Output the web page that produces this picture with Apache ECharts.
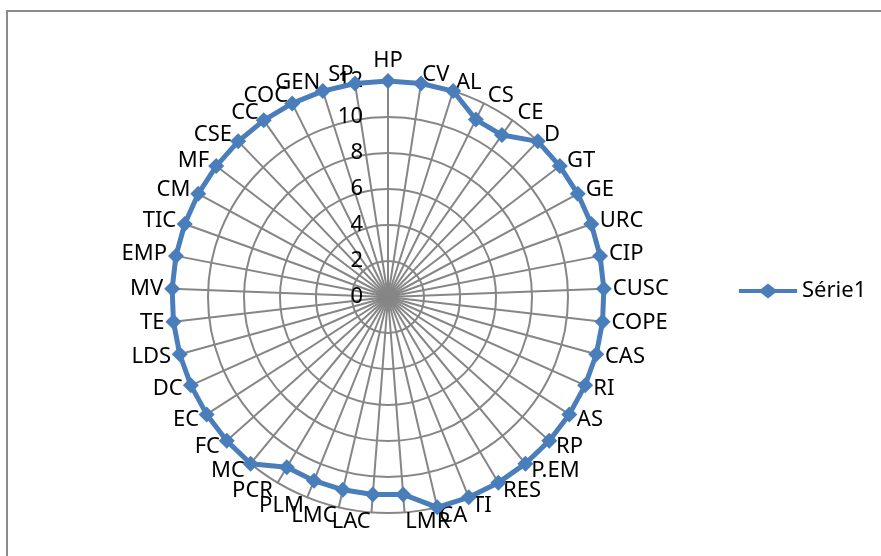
<!DOCTYPE html>
<html>
<head>
<meta charset="utf-8">
<script src="https://cdn.jsdelivr.net/npm/echarts@6/dist/echarts.min.js"></script>
<style>
  html, body { margin: 0; padding: 0; background: #fff; }
  #chart { width: 881px; height: 556px; }
</style>
</head>
<body>
<div id="chart"></div>
<script>
// categories listed clockwise from the top, as in the picture
const categories = ['HP', 'CV', 'AL', 'CS', 'CE', 'D', 'GT', 'GE', 'URC', 'CIP', 'CUSC', 'COPE', 'CAS', 'RI',
  'AS', 'RP', 'P.EM', 'RES', 'TI', 'CA', 'LMR', 'LAC', 'LMC', 'PLM', 'PCR', 'MC', 'FC', 'EC', 'DC', 'LDS',
  'TE', 'MV', 'EMP', 'TIC', 'CM', 'MF', 'CSE', 'CC', 'COC', 'GEN', 'SP']
const serie1 = [12, 12, 12, 11, 11, 12, 12, 12, 12, 12, 12, 12, 12, 12,
  12, 12, 12, 12, 12, 12, 11, 11, 11, 11, 11, 12, 12, 12, 12, 12,
  12, 12, 12, 12, 12, 12, 12, 12, 12, 12, 12]
const seriesName = 'Série1'
const axisMax = 12

const font = '"Noto Sans", "Open Sans", sans-serif'
const chart = echarts.init(document.getElementById('chart'))

// echarts radar goes counter-clockwise, so keep the first axis and flip the rest
const order = [0].concat(categories.map((c, i) => i).slice(1).reverse())

// only the first axis (HP) carries the 0..12 labels
const indicators = order.map(i => ({
  name: categories[i],
  min: 0,
  max: axisMax,
  axisLabel: { show: i === 0 }
}))
const values = order.map(i => serie1[i])

chart.setOption({
  animation: false,
  textStyle: { fontFamily: font },
  graphic: [{
    type: 'rect',
    shape: { x: 7, y: 11, width: 900, height: 600 },
    style: { fill: 'none', stroke: '#8c8c8c', lineWidth: 2 }
  }],
  legend: {
    data: [seriesName],
    left: 734,
    top: 275,
    itemWidth: 58,
    itemHeight: 15,
    itemGap: 4,
    icon: 'path://M0,5.5L22,5.5L29,0L36,5.5L58,5.5L58,9.5L36,9.5L29,15L22,9.5L0,9.5Z',
    textStyle: { fontSize: 22, color: '#000', fontFamily: font }
  },
  radar: {
    center: [388, 297],
    radius: 216,
    shape: 'circle',
    splitNumber: 6,
    startAngle: 90,
    axisName: { color: '#000', fontSize: 22, fontFamily: font },
    nameGap: 9,
    axisLine: { lineStyle: { color: '#868686', width: 2 } },
    splitLine: { lineStyle: { color: '#868686', width: 2 } },
    splitArea: { show: false },
    axisTick: { show: false },
    axisLabel: { show: false, color: '#000', fontSize: 22, fontFamily: font, margin: 25 },
    indicator: indicators
  },
  series: [{
    name: seriesName,
    type: 'radar',
    symbol: 'diamond',
    symbolSize: 16,
    lineStyle: { color: '#4a7ebb', width: 5 },
    itemStyle: { color: '#4a7ebb' },
    data: [{ value: values, name: seriesName }]
  }]
})
</script>
</body>
</html>
